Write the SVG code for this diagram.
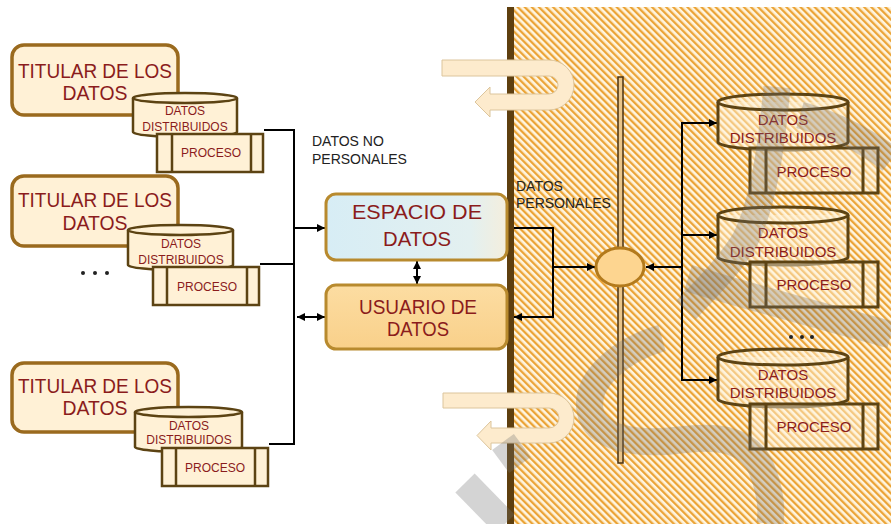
<svg xmlns="http://www.w3.org/2000/svg" width="891" height="524" viewBox="0 0 891 524">
<defs>
<pattern id="hatch" patternUnits="userSpaceOnUse" width="5" height="5" patternTransform="rotate(-45)">
<rect width="5" height="5" fill="#FFF5E0"/>
<rect width="2.3" height="5" fill="#EBA437"/>
</pattern>
<linearGradient id="gEsp" x1="0" y1="0" x2="1" y2="0">
<stop offset="0" stop-color="#D7EDF5"/>
<stop offset="0.8" stop-color="#E3F0F0"/>
<stop offset="1" stop-color="#F4EEDD"/>
</linearGradient>
<linearGradient id="gUsu" x1="0" y1="0" x2="0" y2="1">
<stop offset="0" stop-color="#FCDDA2"/>
<stop offset="1" stop-color="#F9D08A"/>
</linearGradient>
<marker id="arr" markerUnits="userSpaceOnUse" markerWidth="9" markerHeight="9" refX="8" refY="4.5" orient="auto-start-reverse">
<path d="M0,0.5 L8,4.5 L0,8.5 Z" fill="#000"/>
</marker>
<style>
.tit{fill:#FFF1D6;stroke:#9A6A1E;stroke-width:3.5}
.cyl{fill:#FFF1D6;stroke:#5C4313;stroke-width:2.5}
.cylR{fill:#FFF3DC;fill-opacity:0.45;stroke:#5C4313;stroke-width:3}
.big{font-family:"Liberation Sans",Arial,sans-serif;fill:#8B1C1C;text-anchor:middle}
.sm{font-family:"Liberation Sans",Arial,sans-serif;fill:#8B1C1C;text-anchor:middle;font-size:12px}
.rs{font-family:"Liberation Sans",Arial,sans-serif;fill:#8B1C1C;text-anchor:middle;font-size:15px}
.lbl{font-family:"Liberation Sans",Arial,sans-serif;fill:#222;font-size:14px}
.con{fill:none;stroke:#000;stroke-width:2}
.uarr{fill:#FDEBCD;stroke:#DCC59C;stroke-width:1}
.wm{fill:none;stroke:#707070;stroke-opacity:0.3;stroke-width:27;stroke-linecap:butt}
</style>
</defs>
<rect width="891" height="524" fill="#FFFFFF"/>
<g id="zona-personal">
<rect x="513" y="7" width="378" height="517" fill="url(#hatch)"/>
<rect x="507" y="7" width="7" height="517" fill="#5E3F0F"/>
<rect x="618" y="77" width="5" height="386" fill="#E9C488" stroke="#4A3210" stroke-width="1.5"/>
</g>
<g id="u-arrow-top"><path class="uarr" d="M442 60 H549 A25 25 0 0 1 549 110 H490 V117 L475 102 L490 87 V94 H549 A9 9 0 0 0 549 76 H442 Z"/></g>
<g id="u-arrow-bottom"><path class="uarr" d="M443 393 H549 A25 25 0 0 1 549 443 H491 V450 L477 435.5 L491 421 V428 H549 A10 10 0 0 0 549 408 H443 Z"/></g>
<g id="connectors">
<path class="con" d="M264 130 H294 V444 H269"/>
<path class="con" d="M260 264 H294"/>
<path class="con" d="M294 228 H325" marker-end="url(#arr)"/>
<path class="con" d="M297 317 H325" marker-start="url(#arr)" marker-end="url(#arr)"/>
<path class="con" d="M417 261 V284" marker-start="url(#arr)" marker-end="url(#arr)"/>
<path class="con" d="M514 228 H553 V317 H514" marker-end="url(#arr)"/>
<path class="con" d="M553 267 H595" marker-end="url(#arr)"/>
<path class="con" d="M682 267 H646" marker-end="url(#arr)"/>
<path class="con" d="M717 123 H682 V380 H717" marker-start="url(#arr)" marker-end="url(#arr)"/>
<path class="con" d="M682 235 H717" marker-end="url(#arr)"/>
</g>
<g id="titular-1">
<rect class="tit" x="12" y="45" width="166" height="70" rx="12"/>
<text class="big" x="95" y="78" font-size="21" textLength="154" lengthAdjust="spacingAndGlyphs">TITULAR DE LOS</text>
<text class="big" x="95" y="100" font-size="21" textLength="65" lengthAdjust="spacingAndGlyphs">DATOS</text>
</g>
<g id="datos-1">
<path class="cyl" d="M133 98 V132 A52 5 0 0 0 237 132 V98"/>
<ellipse class="cyl" cx="185" cy="98" rx="52" ry="5"/>
<text class="sm" x="185" y="114.5">DATOS</text>
<text class="sm" x="185" y="130.5">DISTRIBUIDOS</text>
</g>
<g id="proceso-1">
<rect class="cyl" x="157" y="134" width="106" height="38"/>
<path class="cyl" d="M172 134 V172 M251 134 V172"/>
<text class="sm" x="211" y="157">PROCESO</text>
</g>
<g id="titular-2">
<rect class="tit" x="12" y="176" width="166" height="70" rx="12"/>
<text class="big" x="95" y="207" font-size="21" textLength="154" lengthAdjust="spacingAndGlyphs">TITULAR DE LOS</text>
<text class="big" x="95" y="230" font-size="21" textLength="65" lengthAdjust="spacingAndGlyphs">DATOS</text>
</g>
<g id="datos-2">
<path class="cyl" d="M128 230 V265 A52.5 5 0 0 0 233 265 V230"/>
<ellipse class="cyl" cx="180.5" cy="230" rx="52.5" ry="5"/>
<text class="sm" x="181" y="248">DATOS</text>
<text class="sm" x="181" y="264">DISTRIBUIDOS</text>
</g>
<g id="proceso-2">
<rect class="cyl" x="153" y="267" width="106" height="38"/>
<path class="cyl" d="M167 267 V305 M247 267 V305"/>
<text class="sm" x="207" y="291">PROCESO</text>
</g>
<g id="dots-left" fill="#222">
<circle cx="83" cy="273" r="2"/><circle cx="95" cy="273" r="2"/><circle cx="107" cy="273" r="2"/>
</g>
<g id="titular-3">
<rect class="tit" x="12" y="363" width="166" height="69" rx="12"/>
<text class="big" x="95" y="393" font-size="21" textLength="154" lengthAdjust="spacingAndGlyphs">TITULAR DE LOS</text>
<text class="big" x="95" y="415" font-size="21" textLength="65" lengthAdjust="spacingAndGlyphs">DATOS</text>
</g>
<g id="datos-3">
<path class="cyl" d="M135 412 V447 A53.5 5 0 0 0 242 447 V412"/>
<ellipse class="cyl" cx="188.5" cy="412" rx="53.5" ry="5"/>
<text class="sm" x="189" y="430">DATOS</text>
<text class="sm" x="189" y="444">DISTRIBUIDOS</text>
</g>
<g id="proceso-3">
<rect class="cyl" x="162" y="448" width="106" height="38"/>
<path class="cyl" d="M176 448 V486 M255 448 V486"/>
<text class="sm" x="215" y="472">PROCESO</text>
</g>
<g id="label-no-personales">
<text class="lbl" x="312" y="146">DATOS NO</text>
<text class="lbl" x="312" y="164">PERSONALES</text>
</g>
<g id="espacio-de-datos">
<rect x="326" y="194" width="181" height="66" rx="10" fill="url(#gEsp)" stroke="#B88A2E" stroke-width="3"/>
<text class="big" x="417" y="219" font-size="21" textLength="130" lengthAdjust="spacingAndGlyphs">ESPACIO DE</text>
<text class="big" x="417" y="246" font-size="21" textLength="68" lengthAdjust="spacingAndGlyphs">DATOS</text>
</g>
<g id="usuario-de-datos">
<rect x="326" y="285" width="181" height="64" rx="10" fill="url(#gUsu)" stroke="#B88A2E" stroke-width="3"/>
<text class="big" x="418" y="314" font-size="20" textLength="118" lengthAdjust="spacingAndGlyphs">USUARIO DE</text>
<text class="big" x="418" y="336" font-size="20" textLength="62" lengthAdjust="spacingAndGlyphs">DATOS</text>
</g>
<g id="label-personales">
<text class="lbl" x="516" y="191">DATOS</text>
<text class="lbl" x="516" y="208">PERSONALES</text>
</g>
<g id="nodo-central">
<ellipse cx="620" cy="267" rx="24" ry="19" fill="#FDD590" stroke="#B37A1C" stroke-width="3"/>
</g>
<g id="datos-r1">
<path class="cylR" d="M718 102 V142 A65 8 0 0 0 848 142 V102"/>
<ellipse class="cylR" cx="783" cy="102" rx="65" ry="8"/>
<text class="rs" x="783" y="125">DATOS</text>
<text class="rs" x="783" y="143">DISTRIBUIDOS</text>
</g>
<g id="proceso-r1">
<rect class="cylR" x="750" y="148" width="128" height="45"/>
<path class="cylR" d="M766 148 V193 M863 148 V193"/>
<text class="rs" x="814" y="177">PROCESO</text>
</g>
<g id="datos-r2">
<path class="cylR" d="M718 215 V257 A65 8 0 0 0 848 257 V215"/>
<ellipse class="cylR" cx="783" cy="215" rx="65" ry="8"/>
<text class="rs" x="783" y="238">DATOS</text>
<text class="rs" x="783" y="257">DISTRIBUIDOS</text>
</g>
<g id="proceso-r2">
<rect class="cylR" x="750" y="262" width="128" height="45"/>
<path class="cylR" d="M766 262 V307 M863 262 V307"/>
<text class="rs" x="814" y="290">PROCESO</text>
</g>
<g id="dots-right" fill="#222">
<circle cx="791" cy="337" r="2"/><circle cx="802" cy="337" r="2"/><circle cx="812" cy="337" r="2"/>
</g>
<g id="datos-r3">
<path class="cylR" d="M718 357 V399 A65 8 0 0 0 848 399 V357"/>
<ellipse class="cylR" cx="783" cy="357" rx="65" ry="8"/>
<text class="rs" x="783" y="380">DATOS</text>
<text class="rs" x="783" y="398">DISTRIBUIDOS</text>
</g>
<g id="proceso-r3">
<rect class="cylR" x="750" y="404" width="128" height="45"/>
<path class="cylR" d="M766 404 V449 M863 404 V449"/>
<text class="rs" x="814" y="432">PROCESO</text>
</g>
<g id="watermark">
<path class="wm" d="M777 87 C772 140 765 200 745 240 C730 265 705 290 686 310"/>
<path class="wm" d="M800 115 C835 125 865 140 891 160"/>
<path class="wm" d="M688 278 C760 300 830 318 891 335"/>
<path class="wm" d="M662 338 C620 350 585 380 590 410 C595 440 640 445 680 440 C720 435 750 440 762 470 C770 490 772 510 770 524"/>
<path class="wm" d="M465 483 L505 524"/>
<path class="wm" d="M503 442 L520 465"/>
</g>
</svg>
